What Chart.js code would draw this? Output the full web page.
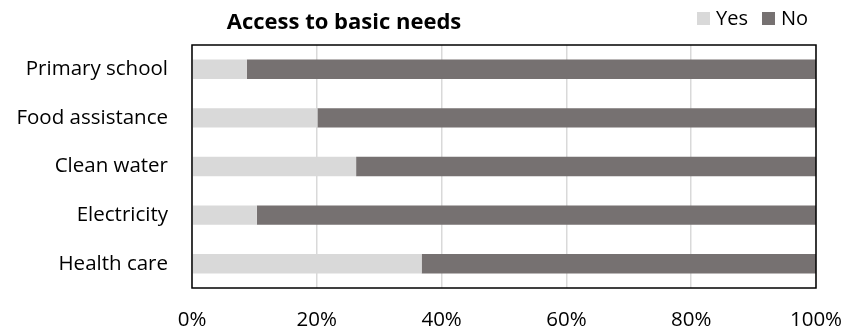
<!DOCTYPE html>
<html>
<head>
<meta charset="utf-8">
<script src="https://cdn.jsdelivr.net/npm/chart.js@4/dist/chart.umd.min.js"></script>
<style>
    html, body { margin: 0; padding: 0; background: #fff; }
    #wrap { width: 855px; height: 329px; }
</style>
</head>
<body>
<div id="wrap"><canvas id="needs-chart"></canvas></div>
<script>
// Veriler
const categories = ["Primary school", "Food assistance", "Clean water", "Electricity", "Health care"];
const seriesNames = ["Yes", "No"];
const yesValues = [8.8, 20.1, 26.3, 10.4, 36.8];
const noValues = [91.2, 79.9, 73.7, 89.6, 63.2];
const percentTicks = [0, 20, 40, 60, 80, 100];

const chartTitle = "Access to basic needs";
const FONT = "'Open Sans', 'Noto Sans', sans-serif";
const YES_COLOR = "#d9d9d9";
const NO_COLOR = "#767171";

// Çerçeve, başlık ve lejant çizimi
const frameAndTitle = {
    id: "frameAndTitle",
    afterDraw(chart) {
        const { ctx, chartArea } = chart;
        ctx.save();

        // Grafik alanı çerçevesi
        ctx.strokeStyle = "#000";
        ctx.lineWidth = 1.5;
        ctx.strokeRect(chartArea.left, chartArea.top, chartArea.right - chartArea.left, chartArea.bottom - chartArea.top);

        // Başlık
        ctx.fillStyle = "#000";
        ctx.font = "bold 22px " + FONT;
        ctx.textAlign = "center";
        ctx.textBaseline = "alphabetic";
        ctx.fillText(chartTitle, 344, 29);

        // Lejant
        ctx.font = "20px " + FONT;
        ctx.textAlign = "left";
        const items = [
            { x: 697, textX: 716, ds: chart.data.datasets[0] },
            { x: 762, textX: 781, ds: chart.data.datasets[1] },
        ];
        items.forEach((it) => {
            ctx.fillStyle = it.ds.backgroundColor;
            ctx.fillRect(it.x, 12, 13, 13);
            ctx.fillStyle = "#000";
            ctx.fillText(it.ds.label, it.textX, 25);
        });
        ctx.restore();
    },
};

const ctx = document.getElementById("needs-chart").getContext("2d");
new Chart(ctx, {
    type: "bar",
    data: {
        labels: categories,
        datasets: [
            { label: seriesNames[0], data: yesValues, backgroundColor: YES_COLOR },
            { label: seriesNames[1], data: noValues, backgroundColor: NO_COLOR },
        ],
    },
    options: {
        indexAxis: "y",
        responsive: true,
        maintainAspectRatio: false,
        animation: false,
        layout: { padding: { top: 45, right: 39, bottom: 0, left: 0 } },
        datasets: {
            bar: { categoryPercentage: 0.8, barPercentage: 0.5, borderWidth: 0 },
        },
        plugins: {
            legend: { display: false },
            title: { display: false },
            tooltip: { enabled: false },
        },
        scales: {
            x: {
                stacked: true,
                min: 0,
                max: 100,
                afterBuildTicks: (scale) => {
                    scale.ticks = percentTicks.map((v) => ({ value: v }));
                },
                afterFit: (scale) => {
                    scale.height = 41;
                    scale.paddingLeft = 0;
                    scale.paddingRight = 0;
                },
                grid: { color: "#d9d9d9", lineWidth: 1.5, drawTicks: false },
                border: { display: false },
                ticks: {
                    padding: 20,
                    color: "#000",
                    font: { family: FONT, size: 20.5 },
                    callback: (v) => v + "%",
                    maxRotation: 0,
                },
            },
            y: {
                stacked: true,
                afterFit: (scale) => { scale.width = 192; },
                grid: { display: false, drawTicks: false },
                border: { display: false },
                ticks: {
                    padding: 24,
                    color: "#000",
                    font: { family: FONT, size: 20.5 },
                },
            },
        },
    },
    plugins: [frameAndTitle],
});
</script>
</body>
</html>
